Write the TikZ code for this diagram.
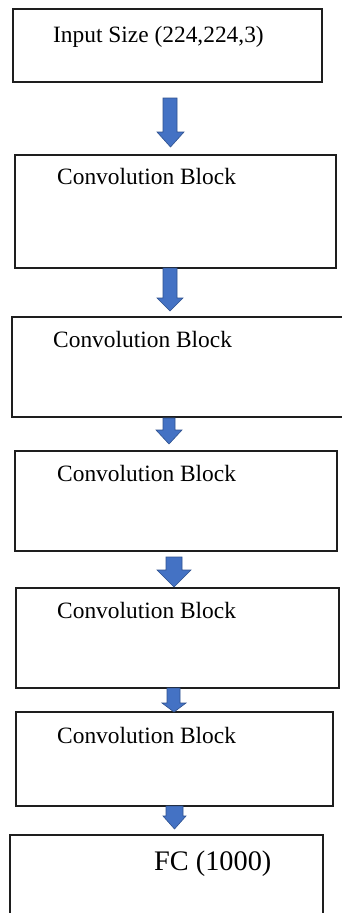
\documentclass[tikz,border=0pt]{standalone}
\usepackage{fontspec}
\setmainfont{Liberation Serif}
\usetikzlibrary{fit}

% Block arrow pointing down: shaft left/right, head left/right, top, head start, tip
\newcommand\blockarr[7]{%
  \draw[flowarrow] (#1,#5) -- (#1,#6) -- (#3,#6)
    -- ({(#3+#4)/2},#7) -- (#4,#6) -- (#2,#6) -- (#2,#5) -- cycle;}

\definecolor{arrowfill}{RGB}{68,114,196}
\definecolor{arrowedge}{RGB}{47,82,143}
\definecolor{boxedge}{RGB}{30,30,30}

\tikzset{
  box/.style={draw=boxedge, line width=1.1pt, inner sep=0pt, fill=white},
  lbl/.style={inner sep=0pt, anchor=base west, font=\fontsize{23.4}{28}\selectfont},
  biglbl/.style={inner sep=0pt, anchor=base west, font=\fontsize{28.3}{34}\selectfont},
  flowarrow/.style={fill=arrowfill, draw=arrowedge, line width=0.6pt, line join=miter},
}

\begin{document}
\begin{tikzpicture}[x=1pt, y=-1pt]
  \clip (0,0) rectangle (342,913);
  \fill[white] (0,0) rectangle (342,913);

  % layer boxes
  \node[box, fit={(13,9) (322,82)}]    (b1) {};
  \node[box, fit={(15,155) (336,268)}] (b2) {};
  \node[box, fit={(12,317) (346,417)}] (b3) {};
  \node[box, fit={(15,451) (337,551)}] (b4) {};
  \node[box, fit={(16,588) (339,688)}] (b5) {};
  \node[box, fit={(16,712) (333,806)}] (b6) {};
  \node[box, fit={(10,835) (323,930)}] (b7) {};

  % labels
  \node[lbl]    (t1) at (53,42)  {Input Size (224,224,3)};
  \node[lbl]    (t2) at (57,184) {Convolution Block};
  \node[lbl]    (t3) at (53,347) {Convolution Block};
  \node[lbl]    (t4) at (57,481) {Convolution Block};
  \node[lbl]    (t5) at (57,618) {Convolution Block};
  \node[lbl]    (t6) at (57,743) {Convolution Block};
  \node[biglbl] (t7) at (154,870) {FC (1000)};

  % flow arrows between the boxes
  \blockarr{163}{177}{157}{184}{98}{132}{147}
  \blockarr{163}{177}{157}{183}{268}{298}{311}
  \blockarr{163}{175}{156}{182}{418}{430}{444}
  \blockarr{166}{182}{157}{191}{557}{570}{587}
  \blockarr{167}{180}{162}{186}{688}{703}{712}
  \blockarr{166}{183}{163}{186}{806}{816}{829}
\end{tikzpicture}
\end{document}
